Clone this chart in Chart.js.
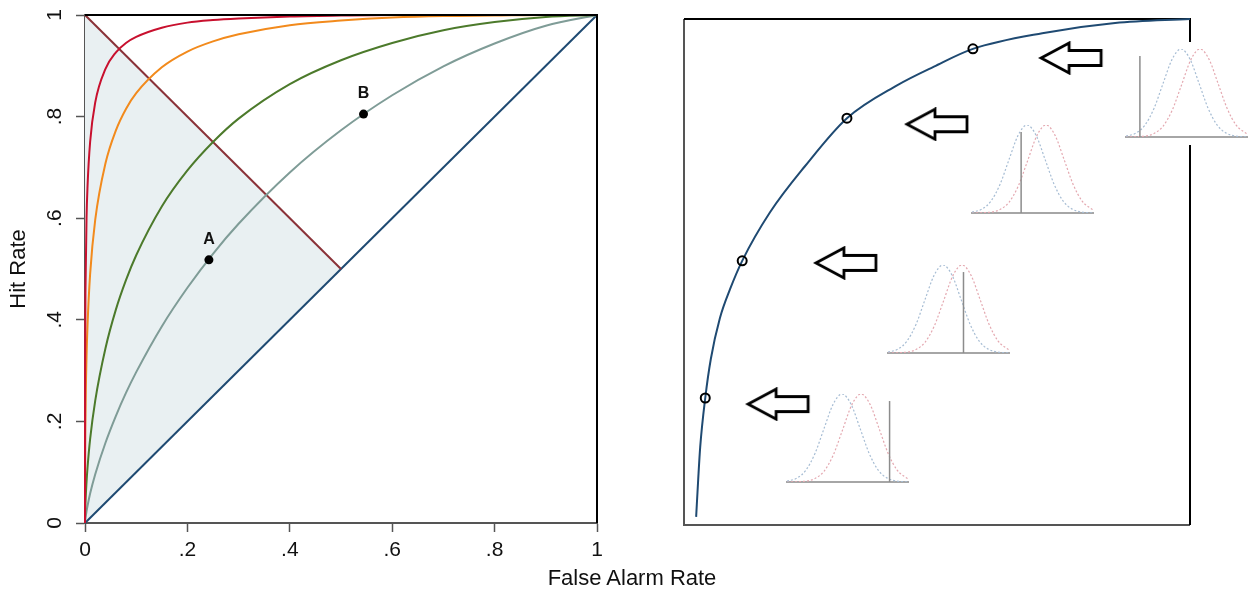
<!DOCTYPE html>
<html>
<head>
<meta charset="utf-8">
<script src="https://cdn.jsdelivr.net/npm/chart.js@4.4.1/dist/chart.umd.min.js"></script>
<style>
  html, body { margin: 0; padding: 0; background: #fff; }
  body { width: 1248px; height: 590px; position: relative; overflow: hidden; font-family: "Liberation Sans", Arial, sans-serif; }
  canvas { position: absolute; }
  #xTitle { position: absolute; left: 532px; top: 567px; width: 200px; text-align: center; font-size: 22px; line-height: 22px; color: #111; }
</style>
</head>
<body>
<canvas id="rocChart" width="640" height="590" style="left:0;top:0"></canvas>
<canvas id="shiftChart" width="608" height="590" style="left:640px;top:0"></canvas>
<div id="xTitle">False Alarm Rate</div>
<script>
// ---- left panel: ROC curves ----
const faGrid    = [0, 0.0002, 0.001, 0.003, 0.005, 0.01, 0.02, 0.04, 0.06, 0.08, 0.1, 0.15, 0.2, 0.25, 0.3, 0.4, 0.5, 0.6, 0.7, 0.8, 0.9, 1];
const hrCrimson = [0, 0.295, 0.464, 0.600, 0.664, 0.750, 0.828, 0.894, 0.926, 0.945, 0.957, 0.975, 0.985, 0.990, 0.993, 0.997, 0.999, 1, 1, 1, 1, 1];
const hrOrange  = [0, 0.107, 0.215, 0.327, 0.391, 0.490, 0.597, 0.708, 0.772, 0.815, 0.846, 0.897, 0.928, 0.948, 0.962, 0.980, 0.989, 0.995, 0.998, 0.999, 1, 1];
const hrGreen   = [0, 0.014, 0.041, 0.081, 0.110, 0.165, 0.241, 0.344, 0.419, 0.478, 0.527, 0.623, 0.694, 0.750, 0.796, 0.864, 0.911, 0.945, 0.970, 0.986, 0.996, 1];
const hrGrey    = [0, 0.003, 0.010, 0.023, 0.034, 0.058, 0.096, 0.158, 0.210, 0.256, 0.297, 0.387, 0.463, 0.530, 0.589, 0.690, 0.773, 0.842, 0.899, 0.944, 0.979, 1];

const chanceFA = [0, 1];
const chanceHR = [0, 1];
const minorFA = [0, 0.5];
const minorHR = [1, 0.5];
const shadeFA = [0, 0.5, 0, 0];
const shadeHR = [0, 0.5, 1, 0];

const pointNames = ['A', 'B'];
const pointFA = [0.242, 0.544];
const pointHR = [0.518, 0.805];

const xTickLabels = ['0', '.2', '.4', '.6', '.8', '1'];
const yTickLabels = ['0', '.2', '.4', '.6', '.8', '1'];

// ---- right panel: one ROC curve with criterion shifts ----
const curveFA = [0.024, 0.028, 0.032, 0.042, 0.053, 0.071, 0.091, 0.115, 0.170, 0.239, 0.322, 0.421, 0.494, 0.571, 0.708, 0.852, 1.0];
const curveHR = [0.016, 0.089, 0.154, 0.251, 0.328, 0.409, 0.466, 0.522, 0.618, 0.709, 0.804, 0.869, 0.906, 0.941, 0.972, 0.992, 1.0];
const circleFA = [0.042, 0.115, 0.322, 0.571];
const circleHR = [0.251, 0.522, 0.804, 0.941];
const arrowX = [0.186, 0.320, 0.500, 0.765];
const arrowY = [0.239, 0.518, 0.792, 0.923];

// small distribution insets (x in sd units, y relative height)
const noiseX  = [-3.05, -2.5, -2, -1.5, -1, -0.5, 0, 0.5, 1, 1.5, 2, 2.5, 3, 3.65];
const noiseY  = [0.010, 0.044, 0.135, 0.325, 0.607, 0.882, 1, 0.882, 0.607, 0.325, 0.135, 0.044, 0.011, 0.001];
const signalX = [-3.05, -2, -1.5, -1, -0.5, 0, 0.55, 1.05, 1.55, 2.05, 2.55, 3.05, 3.65];
const signalY = [0.000, 0.010, 0.039, 0.122, 0.301, 0.576, 0.882, 1, 0.882, 0.607, 0.325, 0.135, 0.034];
const criterionZ = [2.63, 1.13, -0.33, -2.28];
const criterionTop = 0.92;

// inset placement on the page
const insetBoxes = [
  { left: 787, top: 394 },
  { left: 888, top: 265 },
  { left: 972, top: 125 },
  { left: 1126, top: 49, opaque: true }
];

const FONT = '"Liberation Sans", Arial, sans-serif';
Chart.defaults.font.family = FONT;
Chart.defaults.color = '#111';

function pts(xs, ys) {
  return xs.map((x, i) => ({ x: x, y: ys[i] }));
}

function curve(xs, ys, color, width) {
  return {
    data: pts(xs, ys),
    showLine: true,
    borderColor: color,
    borderWidth: width || 2,
    pointRadius: 0,
    cubicInterpolationMode: 'monotone',
    clip: false
  };
}

// top and right frame lines of the left plot
const leftFrame = {
  id: 'leftFrame',
  afterDatasetsDraw(chart) {
    const a = chart.chartArea, ctx = chart.ctx;
    ctx.save();
    ctx.strokeStyle = '#000';
    ctx.lineWidth = 2;
    ctx.beginPath();
    ctx.moveTo(a.left, a.top);
    ctx.lineTo(a.right, a.top);
    ctx.lineTo(a.right, a.bottom);
    ctx.stroke();
    ctx.restore();
  }
};

// y tick labels rotated like the original
const rotatedYLabels = {
  id: 'rotatedYLabels',
  afterDraw(chart) {
    const s = chart.scales.y, ctx = chart.ctx;
    ctx.save();
    ctx.font = '21px ' + FONT;
    ctx.fillStyle = '#111';
    ctx.textAlign = 'center';
    ctx.textBaseline = 'middle';
    s.ticks.forEach((t, i) => {
      ctx.save();
      ctx.translate(s.right - 30, s.getPixelForValue(t.value));
      ctx.rotate(-Math.PI / 2);
      ctx.fillText(yTickLabels[i], 0, 0);
      ctx.restore();
    });
    ctx.restore();
  }
};

// A / B labels over the points
const pointLabels = {
  id: 'pointLabels',
  afterDatasetsDraw(chart) {
    const meta = chart.getDatasetMeta(0), ctx = chart.ctx;
    ctx.save();
    ctx.font = 'bold 16px ' + FONT;
    ctx.fillStyle = '#111';
    ctx.textAlign = 'center';
    ctx.textBaseline = 'middle';
    meta.data.forEach((el, i) => ctx.fillText(pointNames[i], el.x, el.y - 20));
    ctx.restore();
  }
};

const axisGrid = { drawOnChartArea: false, drawTicks: true, tickLength: 9, tickColor: '#555', tickWidth: 1.5 };
const axisBorder = { display: true, color: '#555', width: 2 };

new Chart(document.getElementById('rocChart'), {
  type: 'scatter',
  data: {
    datasets: [
      { data: pts(pointFA, pointHR), pointRadius: 4.5, pointBackgroundColor: '#000', pointBorderWidth: 0, showLine: false },
      curve(faGrid, hrCrimson, '#c8102e'),
      curve(faGrid, hrOrange, '#f28a1c'),
      curve(faGrid, hrGreen, '#4c7a2b'),
      curve(faGrid, hrGrey, '#7f9c97'),
      curve(minorFA, minorHR, '#8a3238'),
      curve(chanceFA, chanceHR, '#1f4a72'),
      { data: pts(shadeFA, shadeHR), showLine: true, fill: 'shape', backgroundColor: '#e9f0f2', borderWidth: 0, pointRadius: 0 }
    ]
  },
  options: {
    responsive: false,
    animation: false,
    layout: { padding: { top: 15, right: 43, left: 0, bottom: 0 } },
    plugins: { legend: { display: false }, tooltip: { enabled: false } },
    scales: {
      x: {
        type: 'linear', min: 0, max: 1,
        ticks: { stepSize: 0.2, padding: 6, maxRotation: 0, font: { size: 21 }, color: '#111',
                 callback: (v, i) => xTickLabels[i] },
        grid: axisGrid,
        border: axisBorder,
        afterFit: s => { s.height = 67; }
      },
      y: {
        type: 'linear', min: 0, max: 1,
        ticks: { stepSize: 0.2, display: false },
        grid: axisGrid,
        border: axisBorder,
        title: { display: true, text: 'Hit Rate', font: { size: 22 }, color: '#111', padding: { top: 6, bottom: 0 } },
        afterFit: s => { s.width = 85; }
      }
    }
  },
  plugins: [leftFrame, rotatedYLabels, pointLabels]
});

// outlined left arrow used as a point marker
function makeArrow() {
  const c = document.createElement('canvas');
  c.width = 66; c.height = 34;
  const g = c.getContext('2d');
  g.beginPath();
  g.moveTo(3, 17);
  g.lineTo(31, 2);
  g.lineTo(31, 9.5);
  g.lineTo(63, 9.5);
  g.lineTo(63, 24.5);
  g.lineTo(31, 24.5);
  g.lineTo(31, 32);
  g.closePath();
  g.fillStyle = '#fff';
  g.fill();
  g.lineWidth = 2.8;
  g.miterLimit = 3;
  g.strokeStyle = '#000';
  g.stroke();
  return c;
}

const boxFrame = {
  id: 'boxFrame',
  beforeDatasetsDraw(chart) {
    const a = chart.chartArea, ctx = chart.ctx;
    ctx.save();
    ctx.lineWidth = 2;
    ctx.strokeStyle = '#555';
    ctx.beginPath();
    ctx.moveTo(a.left, a.top);
    ctx.lineTo(a.left, a.bottom);
    ctx.lineTo(a.right, a.bottom);
    ctx.stroke();
    ctx.strokeStyle = '#000';
    ctx.beginPath();
    ctx.moveTo(a.left, a.top);
    ctx.lineTo(a.right, a.top);
    ctx.lineTo(a.right, a.bottom);
    ctx.stroke();
    ctx.restore();
  }
};

new Chart(document.getElementById('shiftChart'), {
  type: 'scatter',
  data: {
    datasets: [
      { data: pts(circleFA, circleHR), pointStyle: 'circle', pointRadius: 4.5, pointBorderWidth: 2,
        pointBorderColor: '#000', pointBackgroundColor: 'rgba(0,0,0,0)', showLine: false },
      { data: pts(arrowX, arrowY), pointStyle: makeArrow(), pointRadius: 10, showLine: false },
      curve(curveFA, curveHR, '#1f4a72', 2)
    ]
  },
  options: {
    responsive: false,
    animation: false,
    layout: { padding: { left: 44, right: 58, top: 19, bottom: 65 } },
    plugins: { legend: { display: false }, tooltip: { enabled: false } },
    scales: {
      x: { type: 'linear', min: 0, max: 1, display: false },
      y: { type: 'linear', min: 0, max: 1, display: false }
    }
  },
  plugins: [boxFrame]
});

// distribution insets
insetBoxes.forEach((box, k) => {
  const cv = document.createElement('canvas');
  cv.width = 129;
  cv.height = 103;
  cv.style.left = (box.left - 4) + 'px';
  cv.style.top = (box.top - 7) + 'px';
  if (box.opaque) cv.style.background = '#fff';
  document.body.appendChild(cv);
  new Chart(cv, {
    type: 'scatter',
    data: {
      datasets: [
        { data: [{ x: criterionZ[k], y: 0 }, { x: criterionZ[k], y: criterionTop }], showLine: true,
          borderColor: '#8c8c8c', borderWidth: 1.5, pointRadius: 0 },
        { data: pts(noiseX, noiseY), showLine: true, borderColor: '#a7bdd4', borderWidth: 1.2,
          borderDash: [2, 2], pointRadius: 0, cubicInterpolationMode: 'monotone' },
        { data: pts(signalX, signalY), showLine: true, borderColor: '#e4a8b0', borderWidth: 1.2,
          borderDash: [2, 2], pointRadius: 0, cubicInterpolationMode: 'monotone' }
      ]
    },
    options: {
      responsive: false,
      animation: false,
      layout: { padding: { left: 4, right: 4, top: 7, bottom: 8 } },
      plugins: { legend: { display: false }, tooltip: { enabled: false } },
      scales: {
        x: { type: 'linear', min: -3.05, max: 3.65, ticks: { display: false }, grid: { display: false },
             border: { display: true, color: '#a6a6a6', width: 2 }, afterFit: s => { s.height = 0; } },
        y: { type: 'linear', min: 0, max: 1, display: false }
      }
    }
  });
});
</script>
</body>
</html>
